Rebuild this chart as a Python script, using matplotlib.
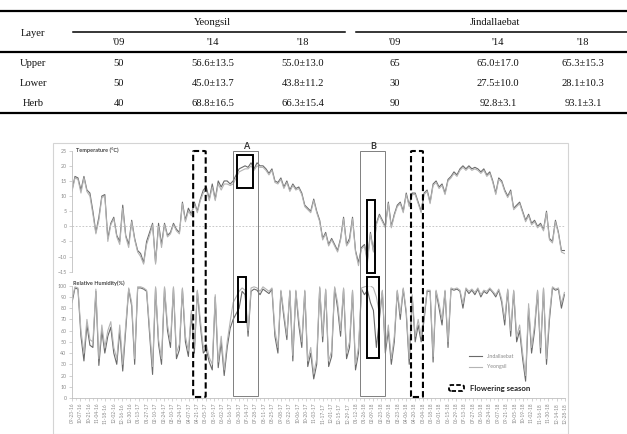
import matplotlib
matplotlib.use("Agg")
import matplotlib.pyplot as plt
import matplotlib.dates as mdates
from matplotlib.lines import Line2D
from matplotlib.patches import Rectangle, FancyBboxPatch
from matplotlib.transforms import blended_transform_factory
import pandas as pd

W, H = 627, 434

# ---- table data ----
layers = ["Upper", "Lower", "Herb"]
sites = ["Yeongsil", "Jindallaebat"]
years = ["'09", "'14", "'18"]
yeongsil_cover = [["50", "56.6±13.5", "55.0±13.0"],
                  ["50", "45.0±13.7", "43.8±11.2"],
                  ["40", "68.8±16.5", "66.3±15.4"]]
jindallaebat_cover = [["65", "65.0±17.0", "65.3±15.3"],
                      ["30", "27.5±10.0", "28.1±10.3"],
                      ["90", "92.8±3.1", "93.1±3.1"]]

# ---- time series (5-day samples from 2016-09-23) ----
start_date = "2016-09-23"
end_date = "2018-12-28"
step = "5D"

temp_jin = [12, 16.5, 16, 12, 16.5, 12, 11, 5, -2, 3,
            10, 10.5, -4, 1, 3, -3, -5, 7, -3, -6,
            2, -4, -8, -9, -12, -5, -2, 1, -12, 1,
            -6, 1, -3, -2, 1, -1, -2, 8, 2, 6,
            4, 8, 5, 9, 12, 13, 9, 14, 9, 15,
            13, 15, 15, 14, 15, 17, 19, 19.5, 20, 19.5,
            21, 19, 21, 20, 20, 19, 17.5, 19, 15, 14.5,
            16, 13, 15, 12, 14, 12.5, 13, 11, 7, 6,
            5, 9, 5, 2, -4, -2, -6, -4, -6, -8,
            -4, 3, -6, -4, 3, -8, -12, -7, -6, -11,
            -2, -8, 1, 4, 2, 0, 8, 0, 4, 7,
            8, 5, 11, 7, 11, 11, 8, 5, 11, 12,
            8, 14, 15, 13, 14, 11, 15.5, 16.5, 18, 17,
            19, 20, 19, 20, 19, 19.5, 19, 18, 19, 17,
            18, 15, 11, 16, 15, 12, 10, 12, 6, 7,
            8, 5, 2, 4, 1, 2, 0, 1, -1, 5,
            -4, -5, 2, -2, -8, -8]
temp_yeong = [11.5, 16, 15.5, 11, 16, 11.5, 10, 4, -2.5, 2,
              9.5, 10, -5, 0.5, 2.5, -3.5, -6, 6, -3.5, -7,
              1.5, -4.5, -8.5, -10, -12.5, -6, -3, 0.5, -12.5, 0,
              -7, 0.5, -3.5, -2.5, 0.5, -1.5, -2.5, 7.5, 1.5, 5,
              3.5, 7.5, 4.5, 8.5, 11, 12, 8.5, 13, 8.5, 14,
              12, 14, 14, 13.5, 14, 16, 18, 18.5, 19, 19,
              20, 18.5, 20, 19.5, 19.5, 18.5, 17, 18.5, 14.5, 14,
              15.5, 12.5, 14.5, 11.5, 13.5, 12, 12.5, 10.5, 6.5, 5.5,
              4.5, 8.5, 4.5, 1.5, -4.5, -2.5, -6.5, -4.5, -6.5, -8.5,
              -4.5, 2.5, -6.5, -5, 2.5, -8.5, -13, -7.5, -6.5, -12,
              -2.5, -8.5, 0.5, 3.5, 1.5, -0.5, 7.5, -0.5, 3.5, 6.5,
              7.5, 4.5, 10.5, 6.5, 10.5, 10.5, 7.5, 4.5, 10.5, 11.5,
              7.5, 13.5, 14.5, 12.5, 13.5, 10.5, 15, 16, 17.5, 16.5,
              18.5, 19.5, 18.5, 19.5, 18.5, 19, 18.5, 17.5, 18.5, 16.5,
              17.5, 14.5, 10.5, 15.5, 14.5, 11.5, 9.5, 11.5, 5.5, 6.5,
              7.5, 4.5, 1.5, 3.5, 0.5, 1.5, -0.5, 0.5, -1.5, 4.5,
              -4.5, -5.5, 1.5, -2.5, -8.5, -9]

rh_jin = [85, 98, 97, 55, 33, 65, 47, 45, 95, 29,
          60, 40, 55, 63, 40, 30, 60, 24, 60, 97,
          82, 30, 98, 98, 97, 95, 57, 21, 98, 48,
          30, 98, 60, 45, 98, 35, 43, 97, 50, 37,
          75, 40, 95, 65, 40, 43, 32, 25, 90, 27,
          50, 20, 45, 62, 70, 75, 80, 95, 92, 55,
          95, 97, 96, 92, 97, 95, 93, 97, 55, 40,
          95, 72, 52, 95, 33, 95, 65, 45, 95, 28,
          40, 17, 30, 98, 50, 96, 28, 37, 98, 80,
          55, 97, 35, 45, 95, 25, 40, 97, 92, 96,
          85, 78, 45, 70, 95, 40, 60, 30, 50, 95,
          70, 97, 75, 30, 90, 50, 65, 50, 70, 95,
          95, 32, 95, 80, 65, 95, 45, 97, 96, 97,
          95, 80, 97, 93, 96, 92, 97, 90, 95, 93,
          97, 94, 90, 96, 85, 65, 96, 55, 95, 50,
          60, 35, 15, 80, 40, 60, 95, 40, 97, 30,
          70, 98, 96, 97, 80, 92]
rh_yeong = [88, 99, 98, 60, 40, 70, 52, 50, 97, 35,
            65, 45, 60, 68, 45, 35, 65, 30, 65, 98,
            85, 35, 99, 99, 98, 96, 62, 28, 99, 52,
            35, 99, 65, 50, 99, 40, 48, 98, 55, 42,
            78, 45, 96, 70, 45, 48, 36, 30, 92, 32,
            55, 25, 50, 68, 85, 90, 95, 98, 96, 60,
            98, 99, 98, 95, 99, 97, 95, 98, 60, 45,
            96, 76, 56, 96, 38, 96, 70, 50, 96, 33,
            45, 22, 35, 99, 55, 97, 33, 42, 99, 85,
            60, 98, 40, 50, 96, 30, 45, 98, 99, 100,
            100, 98, 90, 75, 96, 45, 65, 35, 55, 96,
            75, 98, 78, 35, 92, 55, 70, 55, 74, 96,
            96, 37, 96, 84, 70, 96, 50, 98, 97, 98,
            96, 84, 98, 95, 97, 94, 98, 92, 96, 95,
            98, 95, 92, 97, 88, 70, 97, 60, 96, 55,
            65, 40, 20, 84, 45, 65, 96, 45, 98, 35,
            75, 99, 97, 98, 84, 94]

flowering = [("2017-04-14", "2017-05-05"), ("2018-04-14", "2018-05-04")]
periods = {"A": ("2017-06-20", "2017-08-01"), "B": ("2018-01-19", "2018-03-02")}
focus_temp = [("2017-06-26", "2017-07-23"), ("2018-01-31", "2018-02-13")]
focus_rh = [("2017-06-28", "2017-07-11"), ("2018-01-31", "2018-02-20")]

DARK = "#6a6a6a"
LIGHT = "#b4b4b4"
AXC = "#bfbfbf"
TXC = "#8a8a8a"

plt.rcParams["font.family"] = ["Lato", "DejaVu Sans"]


def fy(y):
    return 1 - y / H


def hline(fig, x0, x1, y, lw):
    fig.add_artist(Line2D([x0 / W, x1 / W], [fy(y), fy(y)], transform=fig.transFigure,
                          color="black", lw=lw))


fig = plt.figure(figsize=(W / 100, H / 100), dpi=100)

# ---- table ----
serif = dict(family="Liberation Serif", fontsize=7.6, ha="center", va="center", color="#111111")
col_x = [119, 213, 303, 395, 498, 583]
hline(fig, 0, W, 10.7, 1.6)
hline(fig, 73, 345, 31.7, 1.1)
hline(fig, 356, W, 31.7, 1.1)
hline(fig, 0, W, 51.7, 1.6)
hline(fig, 0, W, 112.7, 1.6)
fig.text(33 / W, fy(33), "Layer", **serif)
fig.text(212 / W, fy(22.5), sites[0], **serif)
fig.text(495 / W, fy(22.5), sites[1], **serif)
for i, x in enumerate(col_x):
    fig.text(x / W, fy(42.5), years[i % 3], **serif)
for r, name in enumerate(layers):
    y = 63 + 20 * r
    fig.text(33 / W, fy(y), name, **serif)
    for c, val in enumerate(yeongsil_cover[r] + jindallaebat_cover[r]):
        fig.text(col_x[c] / W, fy(y), val, **serif)

# ---- chart frame ----
fig.add_artist(Rectangle((53 / W, 0), (568 - 53) / W, fy(143), transform=fig.transFigure,
                         fill=False, ec="#d4d4d4", lw=0.8))

left, width = 72 / W, 493 / W
ax_t = fig.add_axes([left, fy(271.7), width, (271.7 - 150.7) / H])
ax_h = fig.add_axes([left, fy(398), width, (398 - 285.7) / H], sharex=ax_t)

t_dates = pd.date_range(start_date, periods=len(temp_jin), freq=step)
ty_dates = pd.date_range(start_date, periods=len(temp_yeong), freq=step)
h_dates = pd.date_range(start_date, periods=len(rh_jin), freq=step)
hy_dates = pd.date_range(start_date, periods=len(rh_yeong), freq=step)

ax_t.plot(t_dates, temp_jin, color=DARK, lw=0.8)
ax_t.plot(ty_dates, temp_yeong, color=LIGHT, lw=0.8)
ax_t.axhline(0, color=AXC, lw=0.6, ls=(0, (2, 2)))
ax_t.set_ylim(-15, 25)
ax_t.set_yticks(range(-15, 26, 5))

ax_h.plot(h_dates, rh_jin, color=DARK, lw=0.8, label="Jindallaebat")
ax_h.plot(hy_dates, rh_yeong, color=LIGHT, lw=0.8, label="Yeongsil")
ax_h.set_ylim(0, 100)
ax_h.set_yticks(range(0, 101, 10))

ax_t.set_xlim(pd.Timestamp(start_date), pd.Timestamp(end_date))
major = pd.date_range(start_date, end_date, freq="14D")
minor = pd.date_range(start_date, end_date, freq="7D")
ax_h.set_xticks(major)
ax_h.set_xticks(minor, minor=True)
ax_h.xaxis.set_major_formatter(mdates.DateFormatter("%m-%d-%y"))

for ax in (ax_t, ax_h):
    ax.patch.set_alpha(0)
    for s in ("top", "right", "bottom"):
        ax.spines[s].set_visible(False)
    ax.spines["left"].set_color(AXC)
    ax.spines["left"].set_linewidth(0.6)
    ax.tick_params(axis="y", length=2, width=0.5, color=AXC, labelsize=3.8,
                   labelcolor=TXC, pad=2)
ax_t.tick_params(axis="x", which="both", bottom=False, labelbottom=False)
ax_h.spines["bottom"].set_visible(True)
ax_h.spines["bottom"].set_color(AXC)
ax_h.spines["bottom"].set_linewidth(0.6)
ax_h.tick_params(axis="x", which="major", length=2, width=0.5, color=AXC, labelsize=3.5,
                 labelcolor=TXC, labelrotation=90, pad=1.5)
ax_h.tick_params(axis="x", which="minor", length=1.5, width=0.4, color=AXC)

fig.text(76 / W, fy(150.5), "Temperature (°C)", fontsize=4, fontweight="bold",
         color="#444444", va="center")
fig.text(73 / W, fy(283), "Relative Humidity(%)", fontsize=4, fontweight="bold",
         color="#444444", va="center")

ax_h.legend(loc="center left", bbox_to_anchor=(0.795, 0.325), frameon=False, fontsize=3.8,
            handlelength=2.6, labelspacing=1.1, labelcolor=TXC)

# ---- annotation boxes spanning both panels ----
tr = blended_transform_factory(ax_t.transData, fig.transFigure)


def span_box(x0, x1, ytop, ybot):
    d0 = mdates.date2num(pd.Timestamp(x0))
    d1 = mdates.date2num(pd.Timestamp(x1))
    return d0, d1, fy(ybot), fy(ytop) - fy(ybot)


for x0, x1 in flowering:
    d0, d1, yb, hh = span_box(x0, x1, 151, 397)
    fig.add_artist(FancyBboxPatch((d0, yb), d1 - d0, hh, boxstyle="round,pad=0,rounding_size=3",
                                  mutation_aspect=0.0005, transform=tr, fill=False,
                                  ec="black", lw=1.5, ls=(0, (3, 1.5))))
for name, (x0, x1) in periods.items():
    d0, d1, yb, hh = span_box(x0, x1, 151, 396)
    fig.add_artist(Rectangle((d0, yb), d1 - d0, hh, transform=tr, fill=False,
                             ec="#7f7f7f", lw=0.7))
    fig.text((d0 + d1) / 2, fy(146.5), name, transform=tr, ha="center", va="center",
             fontsize=6.5, fontweight="bold", color="#333333")
for (x0, x1), (ytop, ybot) in zip(focus_temp, [(155, 188), (200, 273)]):
    d0, d1, yb, hh = span_box(x0, x1, ytop, ybot)
    fig.add_artist(Rectangle((d0, yb), d1 - d0, hh, transform=tr, fill=False,
                             ec="black", lw=1.4))
for (x0, x1), (ytop, ybot) in zip(focus_rh, [(277, 322), (277, 358)]):
    d0, d1, yb, hh = span_box(x0, x1, ytop, ybot)
    fig.add_artist(Rectangle((d0, yb), d1 - d0, hh, transform=tr, fill=False,
                             ec="black", lw=1.4))

# flowering season legend
fig.add_artist(FancyBboxPatch((449 / W, fy(391)), 15 / W, 6 / H,
                              boxstyle="round,pad=0,rounding_size=0.004",
                              transform=fig.transFigure, fill=False, ec="black", lw=1.3,
                              ls=(0, (2.5, 1.2))))
fig.text(470 / W, fy(388), "Flowering season", fontsize=5.6, fontweight="bold",
         color="#222222", va="center")

fig.savefig("out.png", dpi=100)
